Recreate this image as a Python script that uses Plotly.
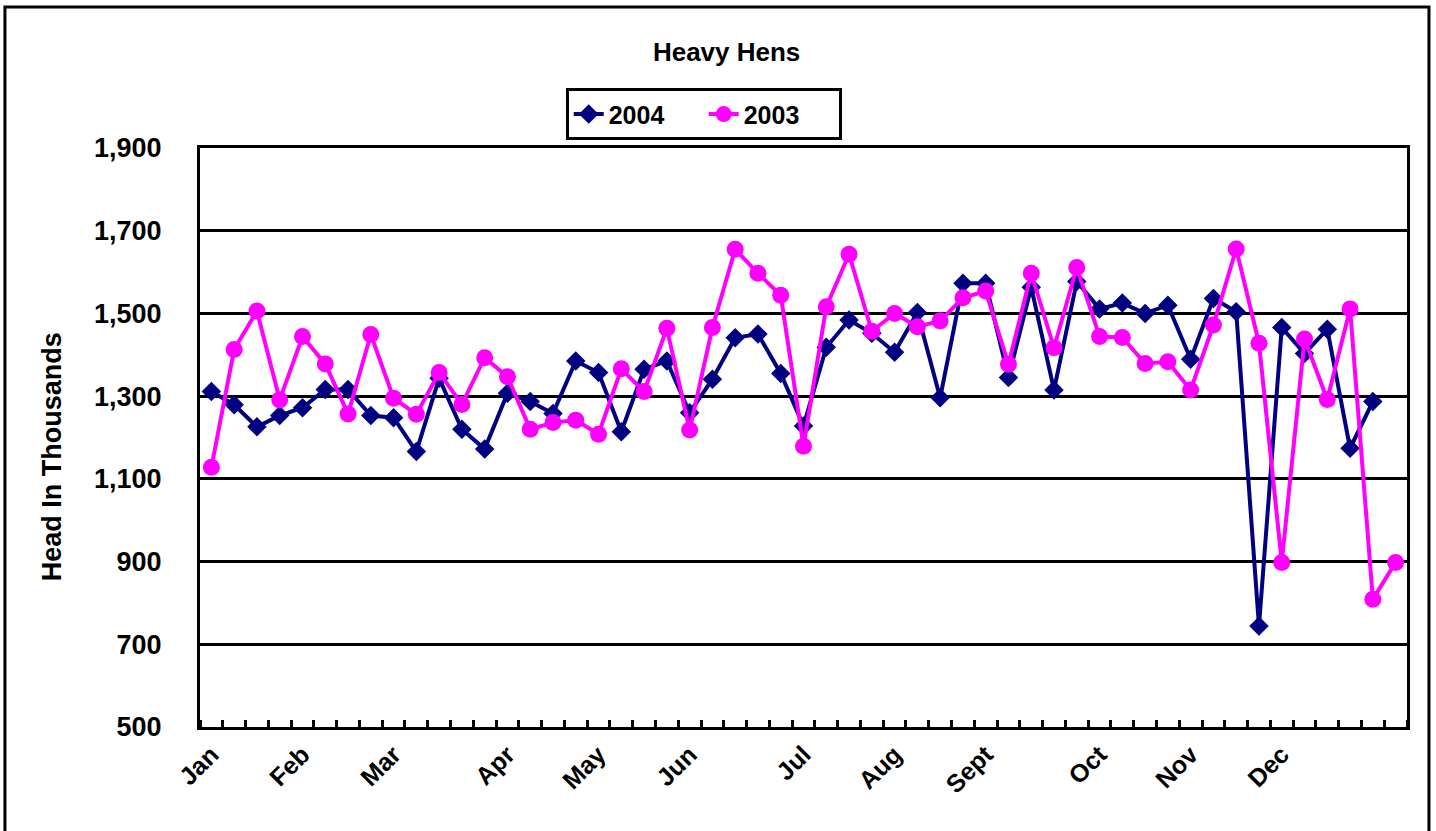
import plotly.graph_objects as go

# ---- data ----
weeks_2004 = list(range(52))
weeks_2003 = list(range(53))

values_2004 = [1311, 1279, 1226, 1253, 1272, 1316, 1316, 1253, 1248, 1166,
               1343, 1220, 1172, 1307, 1287, 1258, 1385, 1357, 1214, 1365,
               1385, 1260, 1341, 1441, 1450, 1355, 1228, 1418, 1484, 1452,
               1406, 1502, 1296, 1573, 1573, 1345, 1563, 1315, 1577, 1511,
               1525, 1500, 1520, 1389, 1536, 1504, 744, 1466, 1403, 1462,
               1174, 1287]

values_2003 = [1128, 1413, 1506, 1291, 1444, 1378, 1257, 1449, 1295, 1256,
               1357, 1280, 1393, 1347, 1220, 1236, 1242, 1208, 1366, 1311,
               1464, 1218, 1466, 1655, 1597, 1544, 1179, 1516, 1643, 1457,
               1500, 1468, 1482, 1538, 1554, 1377, 1597, 1417, 1611, 1444,
               1442, 1379, 1383, 1315, 1472, 1656, 1428, 898, 1438, 1292,
               1511, 809, 898]

month_labels = ["Jan", "Feb", "Mar", "Apr", "May", "Jun", "Jul", "Aug",
                "Sept", "Oct", "Nov", "Dec"]
month_week = [0, 4, 8, 13, 17, 21, 26, 30, 34, 39, 43, 47]

y_ticks = [500, 700, 900, 1100, 1300, 1500, 1700, 1900]

FONT = "Arial, Liberation Sans, sans-serif"

fig = go.Figure()
fig.add_trace(go.Scatter(
    x=weeks_2004, y=values_2004, name="2004", mode="lines+markers",
    line=dict(color="#000080", width=4),
    marker=dict(symbol="diamond", size=15, color="#000080"),
))
fig.add_trace(go.Scatter(
    x=weeks_2003, y=values_2003, name="2003", mode="lines+markers",
    line=dict(color="#FF00FF", width=4),
    marker=dict(symbol="circle", size=17, color="#FF00FF"),
))

fig.update_layout(
    width=1436, height=831,
    margin=dict(l=200, r=29, t=148, b=104, autoexpand=False),
    paper_bgcolor="white", plot_bgcolor="white",
    font=dict(family=FONT, color="black"),
    title=dict(text="Heavy Hens", x=0.506, xanchor="center",
               y=1 - 52 / 831, yref="container", yanchor="middle",
               font=dict(size=26, family=FONT, weight="bold", color="black")),
    showlegend=True,
    legend=dict(orientation="h", x=0.303, xanchor="left", y=1.103, yanchor="top",
                bordercolor="black", borderwidth=3, bgcolor="white",
                font=dict(size=25, family=FONT, weight="bold", color="black"),
                entrywidth=90, entrywidthmode="pixels",
                itemwidth=30, tracegroupgap=0),
    xaxis=dict(range=[-0.5, 52.5], tickmode="array", tickvals=month_week,
               ticktext=month_labels, tickangle=-45, ticks="",
               tickfont=dict(size=25, family=FONT, weight="bold", color="black"),
               showgrid=False, zeroline=False,
               showline=True, linecolor="black", linewidth=3, mirror=True,
               minor=dict(tickmode="linear", tick0=0.5, dtick=1, ticks="inside",
                          ticklen=7, tickwidth=3, tickcolor="black", showgrid=False)),
    yaxis=dict(range=[500, 1900], tickmode="array", tickvals=y_ticks,
               tickformat=",", ticks="outside", ticklen=30,
               tickcolor="rgba(0,0,0,0)",
               tickfont=dict(size=27, family=FONT, weight="bold", color="black"),
               showgrid=True, gridcolor="black", gridwidth=3, zeroline=False,
               showline=True, linecolor="black", linewidth=3, mirror=True),
    annotations=[dict(text="Head In Thousands", xref="paper", yref="paper",
                      x=-0.1226, y=0.466, textangle=-90, showarrow=False,
                      xanchor="center", yanchor="middle",
                      font=dict(size=27, family=FONT, weight="bold", color="black"))],
    shapes=[dict(type="rect", xref="paper", yref="paper",
                 x0=-0.1616, x1=1.0182, y0=-0.3, y1=1.2435,
                 line=dict(color="black", width=3), layer="below")],
)

fig.write_html("out.html", config={"displayModeBar": False},
               post_script="document.body.style.margin='0';document.body.style.overflow='hidden';")
